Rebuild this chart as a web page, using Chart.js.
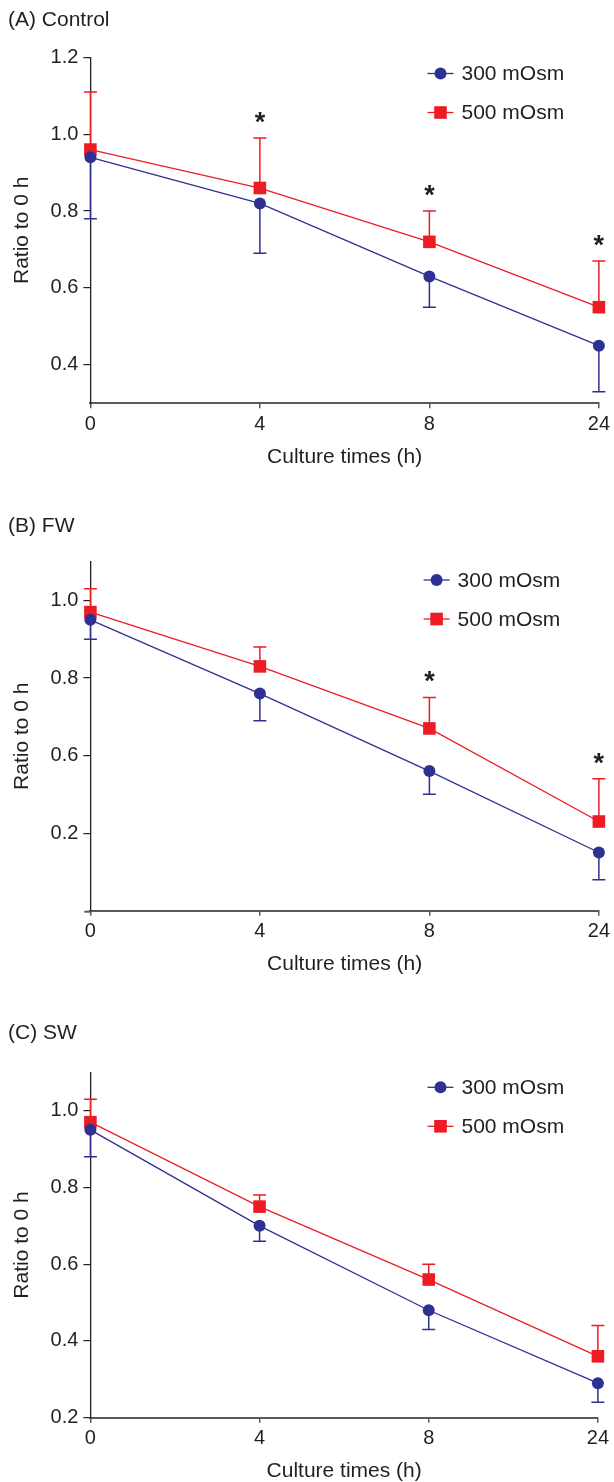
<!DOCTYPE html>
<html><head><meta charset="utf-8">
<script src="https://cdn.jsdelivr.net/npm/chart.js@4.4.1/dist/chart.umd.min.js"></script>
<style>
html,body{margin:0;padding:0;background:#fff;}
#wrap{position:relative;width:614px;height:1482px;overflow:hidden;background:#fff;}
canvas{position:absolute;left:0;}
</style></head><body>
<div id="wrap">
<canvas id="cA" width="614" height="480" style="top:0px"></canvas>
<canvas id="cB" width="614" height="505" style="top:480px"></canvas>
<canvas id="cC" width="614" height="497" style="top:985px"></canvas>
</div>
<script>
// ---------- data ----------
const categories = ['0', '4', '8', '24'];
const seriesNames = ['300 mOsm', '500 mOsm'];
const xTitle = 'Culture times (h)';
const yTitle = 'Ratio to 0 h';

// (A) Control
const aTitle = '(A) Control';
const a300 = [0.94, 0.82, 0.63, 0.45];
const a300SD = [0.16, 0.13, 0.08, 0.12];
const a500 = [0.96, 0.86, 0.72, 0.55];
const a500SD = [0.15, 0.13, 0.08, 0.12];
const aSig = [false, true, true, true];
const aTickValues = [0.4, 0.6, 0.8, 1.0, 1.2];
const aTickLabels = ['0.4', '0.6', '0.8', '1.0', '1.2'];

// (B) FW
const bTitle = '(B) FW';
const b300 = [0.95, 0.76, 0.56, 0.35];
const b300SD = [0.05, 0.07, 0.06, 0.07];
const b500 = [0.97, 0.83, 0.67, 0.43];
const b500SD = [0.06, 0.05, 0.08, 0.11];
const bSig = [false, false, true, true];
const bTickValues = [0.4, 0.6, 0.8, 1.0];
const bTickLabels = ['0.2', '0.6', '0.8', '1.0'];

// (C) SW
const cTitle = '(C) SW';
const c300 = [0.95, 0.70, 0.48, 0.29];
const c300SD = [0.07, 0.04, 0.05, 0.05];
const c500 = [0.97, 0.75, 0.56, 0.36];
const c500SD = [0.06, 0.03, 0.04, 0.08];
const cSig = [false, false, false, false];
const cTickValues = [0.2, 0.4, 0.6, 0.8, 1.0];
const cTickLabels = ['0.2', '0.4', '0.6', '0.8', '1.0'];

// ---------- style ----------
const BLUE = '#2E3192';
const RED = '#ED1C24';
const TXT = '#231F20';
const FONT = "'Liberation Sans', Arial, Helvetica, sans-serif";

const panelPlugin = {
  id: 'panelExtras',
  beforeDatasetsDraw(chart) {
    const ctx = chart.ctx, xs = chart.scales.x, ys = chart.scales.y;
    const p = chart.options.plugins.panelExtras;
    if (p.xExt) {
      ctx.save();
      ctx.strokeStyle = '#5a5a5a';
      ctx.lineWidth = 2;
      ctx.beginPath();
      ctx.moveTo(chart.chartArea.left - p.xExt, chart.chartArea.bottom + 1);
      ctx.lineTo(chart.chartArea.left, chart.chartArea.bottom + 1);
      ctx.stroke();
      ctx.restore();
    }
    chart.data.datasets.forEach(ds => {
      ctx.save();
      ctx.strokeStyle = ds.borderColor;
      ctx.lineWidth = 1.5;
      ds.data.forEach((v, j) => {
        const x = xs.getPixelForValue(j);
        const y0 = ys.getPixelForValue(v);
        const y1 = ys.getPixelForValue(v + ds.errDir * ds.errors[j]);
        ctx.beginPath();
        ctx.moveTo(x, y0); ctx.lineTo(x, y1);
        ctx.moveTo(x - 6.5, y1); ctx.lineTo(x + 6.5, y1);
        ctx.stroke();
      });
      ctx.restore();
    });
  },
  afterDraw(chart) {
    const ctx = chart.ctx, xs = chart.scales.x, ys = chart.scales.y;
    const p = chart.options.plugins.panelExtras;
    ctx.save();
    // panel title
    ctx.fillStyle = TXT;
    ctx.font = '21px ' + FONT;
    ctx.textAlign = 'left';
    ctx.textBaseline = 'middle';
    ctx.fillText(p.title, 8, p.titleY);
    // legend
    chart.data.datasets.forEach((ds, i) => {
      const y = p.legY + i * p.legGap;
      ctx.strokeStyle = ds.borderColor;
      ctx.lineWidth = 1.3;
      ctx.beginPath();
      ctx.moveTo(p.legX - 13, y); ctx.lineTo(p.legX + 13, y);
      ctx.stroke();
      ctx.fillStyle = ds.backgroundColor;
      if (ds.pointStyle === 'circle') {
        ctx.beginPath(); ctx.arc(p.legX, y, 6, 0, Math.PI * 2); ctx.fill();
      } else {
        ctx.fillRect(p.legX - 6.3, y - 6.3, 12.6, 12.6);
      }
      ctx.fillStyle = TXT;
      ctx.font = '21px ' + FONT;
      ctx.textBaseline = 'middle';
      ctx.fillText(ds.label, p.legX + 21, y + 1);
    });
    // significance asterisks above the 500 mOsm error bars
    const ds = chart.data.datasets[1];
    ctx.fillStyle = TXT;
    ctx.font = 'bold 27px ' + FONT;
    ctx.textAlign = 'center';
    ctx.textBaseline = 'alphabetic';
    p.sig.forEach((s, j) => {
      if (!s) return;
      const x = xs.getPixelForValue(j);
      const yTop = ys.getPixelForValue(ds.data[j] + ds.errors[j]);
      ctx.fillText('*', x, yTop - 23 + 16);
    });
    ctx.restore();
  }
};

function makePanel(id, cfg) {
  new Chart(document.getElementById(id), {
    type: 'line',
    data: {
      labels: categories,
      datasets: [
        { label: seriesNames[0], data: cfg.s300, errors: cfg.s300SD, errDir: -1,
          borderColor: BLUE, backgroundColor: BLUE, pointBackgroundColor: BLUE,
          pointStyle: 'circle', pointRadius: 6, pointBorderWidth: 0, borderWidth: 1.3,
          clip: false, tension: 0 },
        { label: seriesNames[1], data: cfg.s500, errors: cfg.s500SD, errDir: 1,
          borderColor: RED, backgroundColor: RED, pointBackgroundColor: RED,
          pointStyle: 'rect', pointRadius: 8.9, pointBorderWidth: 0, borderWidth: 1.3,
          clip: false, tension: 0 }
      ]
    },
    options: {
      responsive: false, animation: false, devicePixelRatio: 1,
      layout: { padding: { left: 0, right: cfg.padRight, top: cfg.padTop, bottom: cfg.padBottom } },
      plugins: {
        legend: { display: false }, tooltip: { enabled: false }, title: { display: false },
        panelExtras: { title: cfg.title, titleY: cfg.titleY, legX: cfg.legX, legY: cfg.legY, legGap: 39, sig: cfg.sig, xExt: cfg.xExt || 0 }
      },
      scales: {
        x: {
          type: 'category', offset: false,
          grid: { drawOnChartArea: false, drawTicks: true, tickLength: 5, color: '#5a5a5a', lineWidth: 1.5 },
          border: { display: true, color: '#5a5a5a', width: 2 },
          ticks: { font: { size: 20, family: FONT }, color: TXT, padding: 4, maxRotation: 0, autoSkip: false },
          title: { display: true, text: xTitle, color: TXT, font: { size: 21, family: FONT, lineHeight: 1 }, padding: { top: 0, bottom: 0 } },
          afterFit(s) { s.height = 64; }
        },
        y: {
          type: 'linear', min: cfg.yMin, max: cfg.yMax,
          afterBuildTicks(s) { s.ticks = cfg.tickValues.map(v => ({ value: v })); },
          grid: { drawOnChartArea: false, drawTicks: true, tickLength: 7, color: TXT, lineWidth: 1.2 },
          border: { display: true, color: TXT, width: 1.3 },
          ticks: { font: { size: 20, family: FONT }, color: TXT, padding: 5,
                   callback: (v, i) => cfg.tickLabels[i] },
          title: { display: true, text: yTitle, color: TXT, font: { size: 21, family: FONT, lineHeight: 1 }, padding: { top: 12, bottom: 0 } },
          afterFit(s) { s.width = 90.4; }
        }
      }
    },
    plugins: [panelPlugin]
  });
}

makePanel('cA', { s300: a300, s300SD: a300SD, s500: a500, s500SD: a500SD, sig: aSig,
  tickValues: aTickValues, tickLabels: aTickLabels, yMin: 0.3, yMax: 1.2,
  title: aTitle, titleY: 20, legX: 440.5, legY: 73.5,
  padTop: 57.3, padRight: 13.8, padBottom: 12.7 });
makePanel('cB', { s300: b300, s300SD: b300SD, s500: b500, s500SD: b500SD, sig: bSig,
  tickValues: bTickValues, tickLabels: bTickLabels, yMin: 0.2, yMax: 1.1,
  title: bTitle, titleY: 46, legX: 436.6, legY: 100, xExt: 6,
  padTop: 81.7, padRight: 10.6, padBottom: 10.3 });
makePanel('cC', { s300: c300, s300SD: c300SD, s500: c500, s500SD: c500SD, sig: cSig,
  tickValues: cTickValues, tickLabels: cTickLabels, yMin: 0.2, yMax: 1.1,
  title: cTitle, titleY: 48.3, legX: 440.5, legY: 102.3,
  padTop: 87.3, padRight: 16.1, padBottom: 0.3 });
</script>
</body></html>
